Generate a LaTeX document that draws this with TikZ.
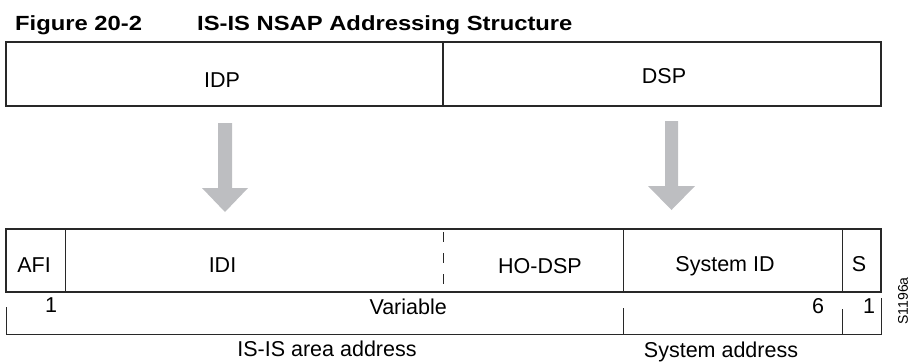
\documentclass[tikz,border=0pt]{standalone}
\usepackage{fontspec}
\setmainfont{Liberation Sans}
\newfontfamily\titlefont[FakeStretch=1.16]{Liberation Sans}
\definecolor{arrowgray}{RGB}{189,190,193}
\definecolor{linecol}{RGB}{40,40,40}
\begin{document}
\begin{tikzpicture}[x=1pt,y=-1pt,
  boxline/.style={draw=linecol,line width=1.1pt},
  thinline/.style={draw=linecol,line width=1pt},
  lbl/.style={inner sep=0pt,anchor=base,font=\fontsize{21.5}{24}\selectfont},
  ttl/.style={inner sep=0pt,anchor=base west,font=\titlefont\bfseries\fontsize{20.5}{24}\selectfont},
  blockarrow/.style={fill=arrowgray,draw=none}]
\useasboundingbox (0,0) rectangle (912,362);
% title
\node[ttl] (fig) at (15,30) {Figure 20-2};
\node[ttl] (figtitle) at (197,30) {IS-IS NSAP Addressing Structure};
% top box
\draw[boxline] (6,42) rectangle (881,106);
\draw[boxline] (443,42) -- (443,106);
\node[lbl] (idp) at (222,87) {IDP};
\node[lbl] (dsp) at (664,83) {DSP};
% arrows
\fill[blockarrow] (218,123) -- (232,123) -- (232,188) -- (248,188) -- (225,212) -- (202,188) -- (218,188) -- cycle;
\fill[blockarrow] (665,121) -- (678,121) -- (678,186) -- (695,186) -- (671.5,210) -- (648,186) -- (665,186) -- cycle;
% bottom box
\draw[boxline] (6,229) rectangle (881,292);
\draw[thinline] (65,229) -- (65,292);
\draw[thinline] (623,229) -- (623,292);
\draw[thinline] (842,229) -- (842,292);
\draw[thinline,dash pattern=on 10pt off 11pt] (443,232) -- (443,292);
\node[lbl] (afi) at (34,272.5) {AFI};
\node[lbl] (idi) at (222.5,272) {IDI};
\node[lbl] (hodsp) at (540,273) {HO-DSP};
\node[lbl] (sysid) at (725,271.5) {System ID};
\node[lbl] (s) at (859,271.5) {S};
% brackets
\draw[thinline] (6,307) -- (6,334) -- (881,334) -- (881,298);
\draw[thinline] (623,308) -- (623,334);
\draw[thinline] (842,309) -- (842,334);
\node[lbl] (one) at (51,312) {1};
\node[lbl,anchor=base east] (var) at (447,314) {Variable};
\node[lbl] (six) at (818,313) {6};
\node[lbl] (onee) at (869,313) {1};
\node[lbl] (area) at (327,356) {IS-IS area address};
\node[lbl] (sysaddr) at (721,357) {System address};
\node[inner sep=0pt,rotate=90,font=\fontsize{14}{16}\selectfont] (code) at (903,301) {S1196a};
\end{tikzpicture}
\end{document}
